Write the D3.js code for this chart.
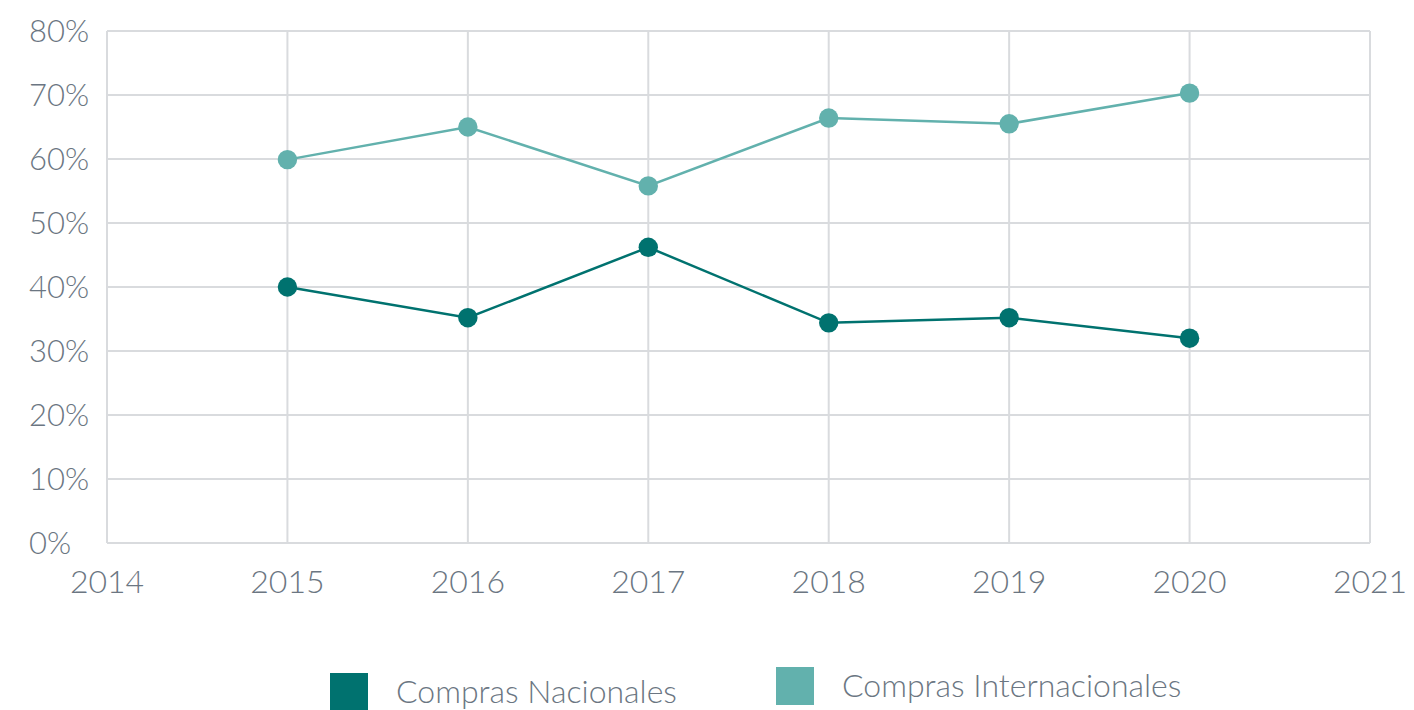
<!DOCTYPE html>
<html>
<head>
<meta charset="utf-8">
<script src="https://cdn.jsdelivr.net/npm/d3@7"></script>
<style>
  body { margin: 0; background: #fff; }
  text { font-family: Lato, sans-serif; font-weight: 300; fill: #6b7682; }
</style>
</head>
<body>
<script>
// data
let years = [2015, 2016, 2017, 2018, 2019, 2020];
let nacionales = [40, 35.2, 46.2, 34.4, 35.2, 32.0];
let internacionales = [59.9, 65.0, 55.8, 66.4, 65.5, 70.3];
let yTicks = [0, 10, 20, 30, 40, 50, 60, 70, 80];
let xTicks = [2014, 2015, 2016, 2017, 2018, 2019, 2020, 2021];
let seriesNames = ['Compras Nacionales', 'Compras Internacionales'];
let seriesColors = ['#00726f', '#62b1ad'];

let margin = {top: 31, right: 44, bottom: 167, left: 107},
    width = 1414 - margin.left - margin.right,
    height = 710 - margin.top - margin.bottom;

let svg = d3.select('body').append('svg')
    .attr('width', 1414)
    .attr('height', 710);

let g = svg.append('g')
    .attr('transform', 'translate(' + margin.left + ',' + margin.top + ')');

let x = d3.scaleLinear().domain([2014, 2021]).range([0, width]);
let y = d3.scaleLinear().domain([0, 80]).range([height, 0]);

// grid
g.selectAll('.hgrid').data(yTicks).enter().append('line')
    .attr('class', 'hgrid')
    .attr('x1', 0).attr('x2', width)
    .attr('y1', d => y(d)).attr('y2', d => y(d))
    .style('stroke', '#d9dbde').style('stroke-width', 2);
g.selectAll('.vgrid').data(xTicks).enter().append('line')
    .attr('class', 'vgrid')
    .attr('x1', d => x(d)).attr('x2', d => x(d))
    .attr('y1', 0).attr('y2', height)
    .style('stroke', '#d9dbde').style('stroke-width', 2);

// y labels (left aligned)
g.selectAll('.ylab').data(yTicks).enter().append('text')
    .attr('class', 'ylab')
    .attr('x', -78)
    .attr('y', d => y(d) + 11)
    .style('font-size', '31px')
    .text(d => d + '%');

// x labels
g.selectAll('.xlab').data(xTicks).enter().append('text')
    .attr('class', 'xlab')
    .attr('x', d => x(d))
    .attr('y', height + 50)
    .attr('text-anchor', 'middle')
    .style('font-size', '32px')
    .text(d => d);

let line = d3.line()
    .x(d => x(d[0]))
    .y(d => y(d[1]));

[nacionales, internacionales].forEach((vals, k) => {
    let pts = years.map((yr, i) => [yr, vals[i]]);
    g.append('path')
        .attr('d', line(pts))
        .style('fill', 'none')
        .style('stroke', seriesColors[k])
        .style('stroke-width', 2.5);
    g.selectAll('.dot' + k).data(pts).enter().append('circle')
        .attr('class', 'dot' + k)
        .attr('cx', d => x(d[0]))
        .attr('cy', d => y(d[1]))
        .attr('r', 9.7)
        .style('fill', seriesColors[k]);
});

// legend
let legendX = [330, 776];
let legendY = [673, 667];
seriesNames.forEach((name, k) => {
    svg.append('rect')
        .attr('x', legendX[k]).attr('y', legendY[k])
        .attr('width', 38).attr('height', 38)
        .style('fill', seriesColors[k]);
    svg.append('text')
        .attr('x', legendX[k] + 66)
        .attr('y', legendY[k] + 30)
        .style('font-size', '32px')
        .text(name);
});
</script>
</body>
</html>
